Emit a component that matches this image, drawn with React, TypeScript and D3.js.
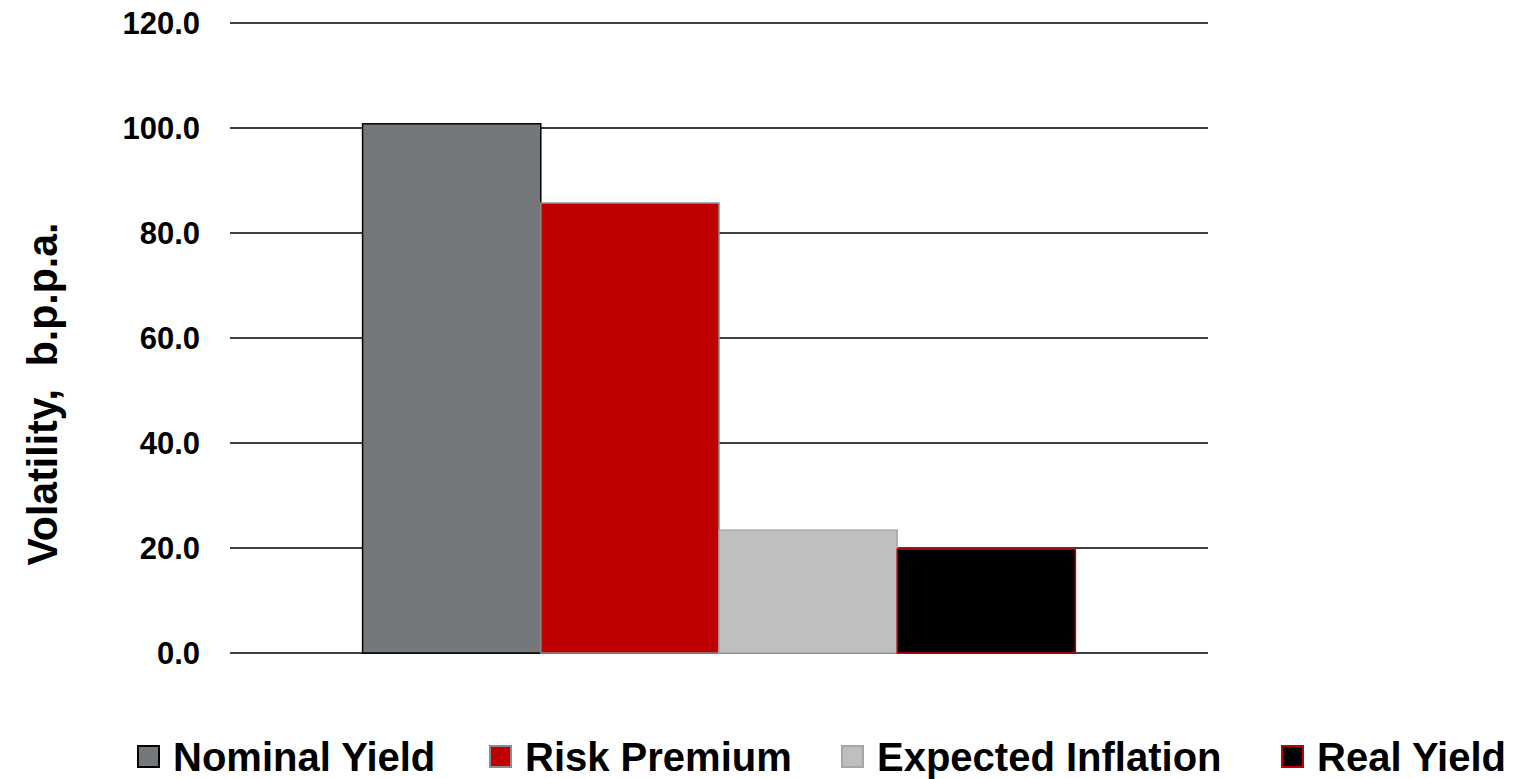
import React, { useEffect, useRef } from 'react'
import * as d3 from 'd3'

// chart data
const categories = ['']
const seriesNames = ['Nominal Yield', 'Risk Premium', 'Expected Inflation', 'Real Yield']
const seriesValues = [100.8, 85.7, 23.4, 19.8]
const yTicks = [0, 20, 40, 60, 80, 100, 120]

const fills = ['#75787B', '#C00000', '#BFBFBF', '#000000']
const strokes = ['#000000', '#8C8C8C', '#A6A6A6', '#C00000']

const WIDTH = 1515
const HEIGHT = 779
const margin = { top: 23, left: 230, right: 307, bottom: 126 }
const FONT = 'Arial, "Liberation Sans", sans-serif'

export default function App () {
  const ref = useRef<SVGSVGElement>(null)

  useEffect(() => {
    const svg = d3.select(ref.current)
    svg.selectAll('*').remove()

    const w = WIDTH - margin.left - margin.right
    const h = HEIGHT - margin.top - margin.bottom

    const y = d3.scaleLinear()
      .domain([0, 120])
      .range([h, 0])

    const x0 = d3.scaleBand()
      .domain(categories)
      .range([0, w])
      .paddingInner(0)
      .paddingOuter(0.186)

    const x1 = d3.scaleBand()
      .domain(seriesNames)
      .range([0, x0.bandwidth()])
      .padding(0)

    const g = svg.append('g')
      .attr('transform', `translate(${margin.left}, ${margin.top})`)

    // gridlines
    g.append('g')
      .selectAll('line')
      .data(yTicks)
      .enter()
      .append('line')
        .attr('x1', 0)
        .attr('x2', w)
        .attr('y1', d => y(d))
        .attr('y2', d => y(d))
        .attr('stroke', '#000')
        .attr('stroke-width', 1.5)

    // tick labels
    g.append('g')
      .selectAll('text')
      .data(yTicks)
      .enter()
      .append('text')
        .attr('x', -30)
        .attr('y', d => y(d))
        .attr('dy', '0.36em')
        .attr('text-anchor', 'end')
        .attr('font-family', FONT)
        .attr('font-weight', 'bold')
        .attr('font-size', 31)
        .text(d => d3.format('.1f')(d))

    // bars
    const data = categories.flatMap(c => seriesNames.map((s, i) => ({ c, s, i, v: seriesValues[i] })))
    g.append('g')
      .selectAll('rect')
      .data(data)
      .enter()
      .append('rect')
        .attr('x', d => (x0(d.c) || 0) + (x1(d.s) || 0))
        .attr('y', d => y(d.v))
        .attr('width', x1.bandwidth())
        .attr('height', d => y(0) - y(d.v))
        .attr('fill', d => fills[d.i])
        .attr('stroke', d => strokes[d.i])
        .attr('stroke-width', 1.5)

    // y axis title
    svg.append('text')
      .attr('transform', 'translate(57, 394) rotate(-90)')
      .attr('text-anchor', 'middle')
      .attr('font-family', FONT)
      .attr('font-weight', 'bold')
      .attr('font-size', 43)
      .attr('textLength', 343)
      .attr('lengthAdjust', 'spacingAndGlyphs')
      .text('Volatility,\u00A0 b.p.p.a.')

    // legend
    const legendX = [137, 489, 841, 1281]
    const legend = svg.append('g')
      .selectAll('g')
      .data(seriesNames)
      .enter()
      .append('g')
        .attr('transform', (d, i) => `translate(${legendX[i]}, 745)`)

    legend.append('rect')
      .attr('x', 1)
      .attr('y', 1)
      .attr('width', 21)
      .attr('height', 21)
      .attr('fill', (d, i) => fills[i])
      .attr('stroke', (d, i) => strokes[i])
      .attr('stroke-width', 2)

    legend.append('text')
      .attr('x', 36)
      .attr('y', 26)
      .attr('font-family', FONT)
      .attr('font-weight', 'bold')
      .attr('font-size', 40)
      .text(d => d)
  }, [])

  return (
    <svg
      ref={ref}
      width={WIDTH}
      height={HEIGHT}
      style={{ position: 'absolute', left: 0, top: 0, background: '#fff' }}
    />
  )
}
